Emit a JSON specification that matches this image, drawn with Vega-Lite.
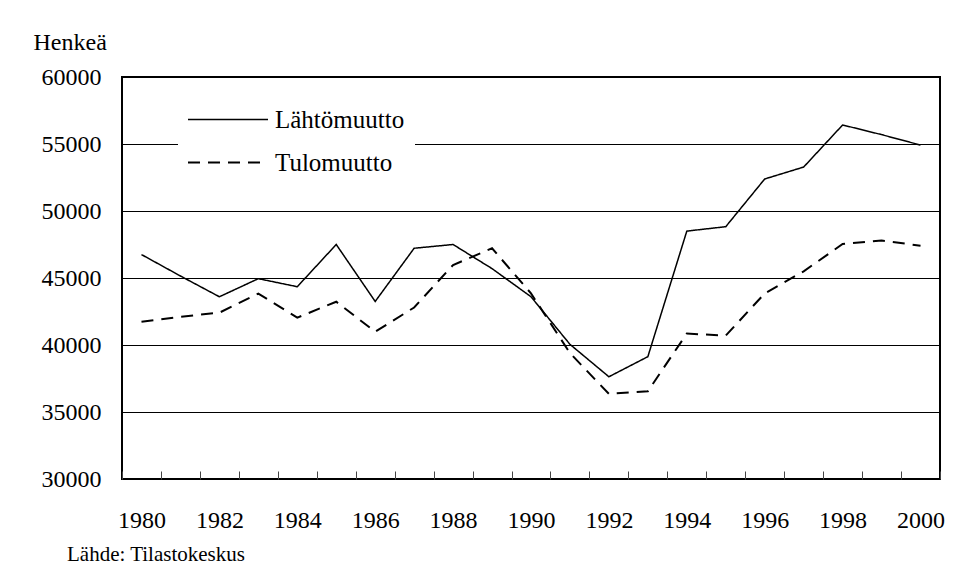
{
  "$schema": "https://vega.github.io/schema/vega-lite/v6.json",
  "autosize": {"type": "none"},
  "width": 818,
  "height": 402,
  "padding": {"left": 122, "top": 77, "right": 39, "bottom": 102},
  "background": "white",
  "title": {
    "text": "Lähde: Tilastokeskus",
    "orient": "bottom",
    "anchor": "start",
    "frame": "group",
    "font": "Liberation Serif, DejaVu Serif, serif",
    "fontSize": 21,
    "fontWeight": "normal",
    "color": "black",
    "dx": -55,
    "offset": 12
  },
  "data": {
    "values": [
      {"year": "1980", "series": "Lähtömuutto", "value": 46750},
      {"year": "1981", "series": "Lähtömuutto", "value": 45150},
      {"year": "1982", "series": "Lähtömuutto", "value": 43600},
      {"year": "1983", "series": "Lähtömuutto", "value": 44950},
      {"year": "1984", "series": "Lähtömuutto", "value": 44350},
      {"year": "1985", "series": "Lähtömuutto", "value": 47500},
      {"year": "1986", "series": "Lähtömuutto", "value": 43250},
      {"year": "1987", "series": "Lähtömuutto", "value": 47220},
      {"year": "1988", "series": "Lähtömuutto", "value": 47500},
      {"year": "1989", "series": "Lähtömuutto", "value": 45700},
      {"year": "1990", "series": "Lähtömuutto", "value": 43600},
      {"year": "1991", "series": "Lähtömuutto", "value": 40050},
      {"year": "1992", "series": "Lähtömuutto", "value": 37630},
      {"year": "1993", "series": "Lähtömuutto", "value": 39130},
      {"year": "1994", "series": "Lähtömuutto", "value": 48500},
      {"year": "1995", "series": "Lähtömuutto", "value": 48830},
      {"year": "1996", "series": "Lähtömuutto", "value": 52390},
      {"year": "1997", "series": "Lähtömuutto", "value": 53280},
      {"year": "1998", "series": "Lähtömuutto", "value": 56420},
      {"year": "1999", "series": "Lähtömuutto", "value": 55700},
      {"year": "2000", "series": "Lähtömuutto", "value": 54920},
      {"year": "1980", "series": "Tulomuutto", "value": 41740},
      {"year": "1981", "series": "Tulomuutto", "value": 42110},
      {"year": "1982", "series": "Tulomuutto", "value": 42410},
      {"year": "1983", "series": "Tulomuutto", "value": 43840},
      {"year": "1984", "series": "Tulomuutto", "value": 42040},
      {"year": "1985", "series": "Tulomuutto", "value": 43230},
      {"year": "1986", "series": "Tulomuutto", "value": 40990},
      {"year": "1987", "series": "Tulomuutto", "value": 42800},
      {"year": "1988", "series": "Tulomuutto", "value": 45970},
      {"year": "1989", "series": "Tulomuutto", "value": 47220},
      {"year": "1990", "series": "Tulomuutto", "value": 43850},
      {"year": "1991", "series": "Tulomuutto", "value": 39400},
      {"year": "1992", "series": "Tulomuutto", "value": 36350},
      {"year": "1993", "series": "Tulomuutto", "value": 36550},
      {"year": "1994", "series": "Tulomuutto", "value": 40850},
      {"year": "1995", "series": "Tulomuutto", "value": 40700},
      {"year": "1996", "series": "Tulomuutto", "value": 43850},
      {"year": "1997", "series": "Tulomuutto", "value": 45500},
      {"year": "1998", "series": "Tulomuutto", "value": 47540},
      {"year": "1999", "series": "Tulomuutto", "value": 47800},
      {"year": "2000", "series": "Tulomuutto", "value": 47410}
    ]
  },
  "mark": {"type": "line", "color": "black", "strokeCap": "butt", "strokeJoin": "miter"},
  "encoding": {
    "x": {
      "field": "year",
      "type": "ordinal",
      "bandPosition": 0.5,
      "scale": {"type": "band", "paddingInner": 0, "paddingOuter": 0},
      "axis": {
        "title": null,
        "domain": false,
        "grid": false,
        "ticks": true,
        "tickBand": "extent",
        "tickSize": -8,
        "tickColor": "#444",
        "tickWidth": 1,
        "labelAngle": 0,
        "labelOverlap": false,
        "labelExpr": "toNumber(datum.label) % 2 == 0 ? datum.label : ''",
        "labelFont": "Liberation Serif, DejaVu Serif, serif",
        "labelFontSize": 24,
        "labelColor": "black",
        "labelPadding": 37
      }
    },
    "y": {
      "field": "value",
      "type": "quantitative",
      "scale": {"domain": [30000, 60000], "nice": false, "zero": false},
      "axis": {
        "values": [30000, 35000, 40000, 45000, 50000, 55000, 60000],
        "format": "d",
        "domain": false,
        "ticks": false,
        "grid": true,
        "gridColor": "black",
        "gridWidth": 1,
        "gridOpacity": 1,
        "labelFont": "Liberation Serif, DejaVu Serif, serif",
        "labelFontSize": 24,
        "labelColor": "black",
        "labelPadding": 21,
        "title": "Henkeä",
        "titleAngle": 0,
        "titleAlign": "left",
        "titleBaseline": "alphabetic",
        "titleX": -89,
        "titleY": -28,
        "titleFont": "Liberation Serif, DejaVu Serif, serif",
        "titleFontSize": 24,
        "titleFontWeight": "normal",
        "titleColor": "black"
      }
    },
    "strokeDash": {
      "field": "series",
      "type": "nominal",
      "scale": {"domain": ["Lähtömuutto", "Tulomuutto"], "range": [[1, 0], [12, 8]]},
      "legend": {
        "title": null,
        "orient": "none",
        "legendX": 56,
        "legendY": 20,
        "fillColor": "white",
        "padding": 10,
        "symbolType": "M-1.25,0H6.75",
        "symbolSize": 400,
        "symbolStrokeColor": "black",
        "symbolStrokeWidth": 1.5,
        "labelFont": "Liberation Serif, DejaVu Serif, serif",
        "labelFontSize": 25,
        "labelColor": "black",
        "labelOffset": 62,
        "rowPadding": 17
      }
    },
    "strokeWidth": {
      "field": "series",
      "type": "nominal",
      "scale": {"domain": ["Lähtömuutto", "Tulomuutto"], "range": [1.5, 2]},
      "legend": null
    }
  },
  "config": {
    "view": {"stroke": "black", "strokeWidth": 2}
  }
}
